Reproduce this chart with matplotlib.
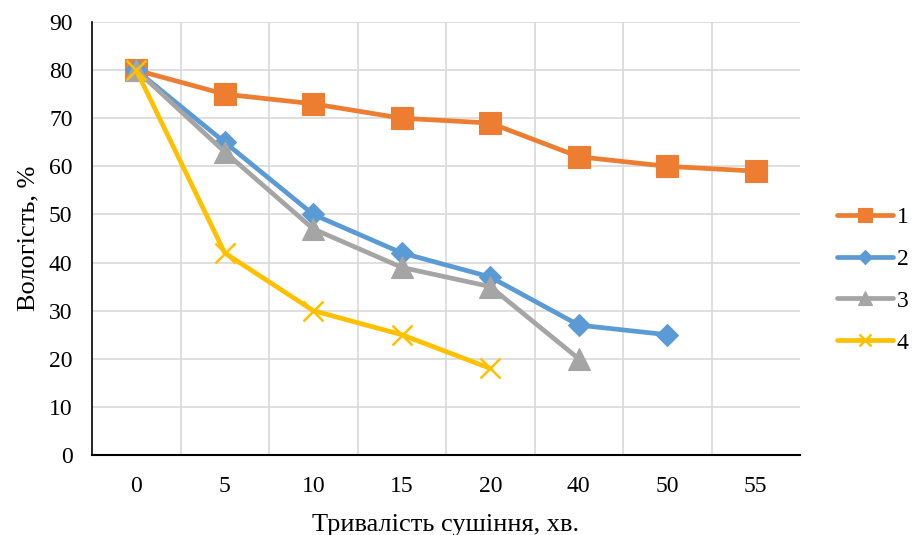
import matplotlib
matplotlib.use("Agg")
import matplotlib.pyplot as plt
import numpy as np

plt.rcParams['font.family'] = ['Liberation Serif', 'DejaVu Serif']

categories = ["0", "5", "10", "15", "20", "40", "50", "55"]
series_names = ["1", "2", "3", "4"]
s1 = [80, 75, 73, 70, 69, 62, 60, 59]
s2 = [80, 65, 50, 42, 37, 27, 25]
s3 = [80, 63, 47, 39, 35, 20]
s4 = [80, 42, 30, 25, 18]

colors = ["#ED7D31", "#5B9BD5", "#A5A5A5", "#FFC000"]
markers = ["s", "D", "^", "x"]
msizes = [16, 11.5, 16, 14]

fig = plt.figure(figsize=(9.13, 5.35), dpi=100)
ax = fig.add_axes([92 / 913, 1 - 455 / 535, (800 - 92) / 913, (455 - 22) / 535])

for name, vals, c, m, ms in zip(series_names, [s1, s2, s3, s4], colors, markers, msizes):
    x = np.arange(len(vals))
    mew = 1.8 if m == "x" else 0.8
    ax.plot(x, vals, color=c, lw=3.4, marker=m, markersize=ms,
            markerfacecolor=c, markeredgecolor=c, markeredgewidth=mew,
            label=name, solid_joinstyle="round", solid_capstyle="round")

ax.set_xlim(-0.5, len(categories) - 0.5)
ax.set_ylim(0, 90)
ax.set_yticks(np.arange(0, 91, 10))
ax.set_xticks(np.arange(len(categories)))
ax.set_xticklabels(categories)

# Horizontal grid at y ticks, vertical grid between categories
ax.set_axisbelow(True)
ax.yaxis.grid(True, color="#D9D9D9", lw=1.2)
for b in np.arange(0.5, len(categories) - 1, 1.0):
    ax.axvline(b, color="#D9D9D9", lw=1.2, zorder=0)

for side in ["top", "right"]:
    ax.spines[side].set_visible(False)
ax.spines["left"].set_color("black")
ax.spines["bottom"].set_color("black")
ax.spines["left"].set_linewidth(1.2)
ax.spines["bottom"].set_linewidth(1.5)
ax.tick_params(axis="both", length=0, labelsize=17, colors="black")
ax.tick_params(axis="x", pad=15)
ax.tick_params(axis="y", pad=14)

ax.set_xlabel("Тривалість сушіння, хв.", fontsize=19, labelpad=12)
ax.set_ylabel("Вологість, %", fontsize=19, labelpad=7)

leg = fig.legend(loc="center left", bbox_to_anchor=(837 / 913, 1 - 280 / 535),
                 frameon=False, fontsize=17, handlelength=2.37, borderpad=0,
                 borderaxespad=0, labelspacing=0.86, handletextpad=0.17,
                 markerscale=0.6)

fig.savefig("out.png", dpi=100)
